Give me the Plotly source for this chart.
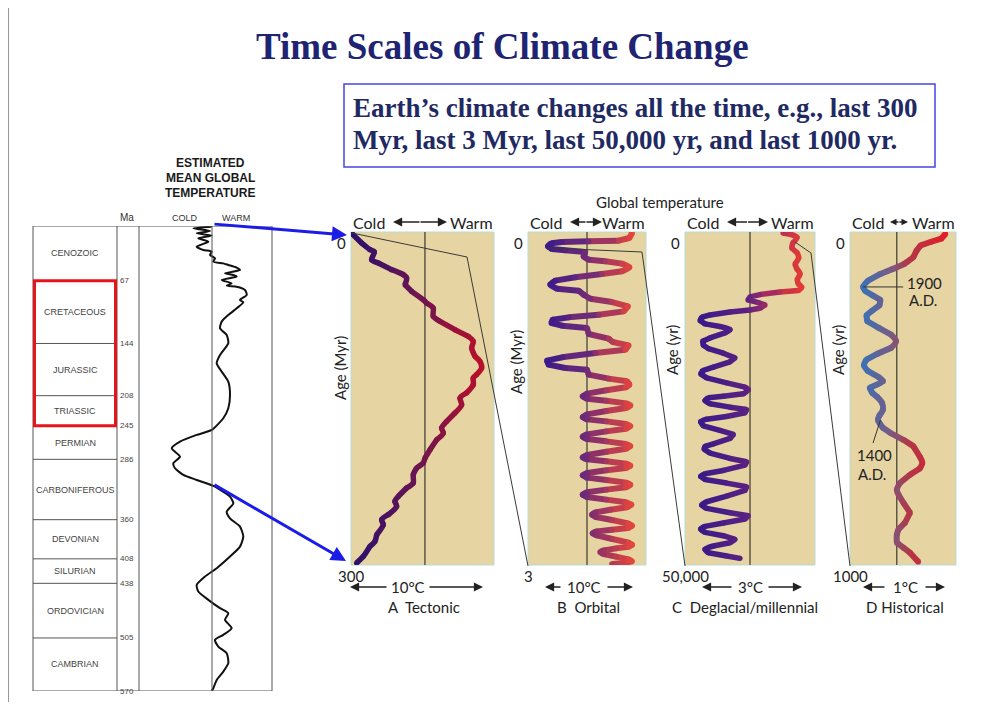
import plotly.graph_objects as go

# The page body has an 8px margin, so the figure is sized to the window minus it
OFF = 8
W, H = 1001 - 2 * OFF, 710 - 2 * OFF
def px(x): return (x - OFF) / W
def py(y): return 1 - (y - OFF) / H

# ---------------- DATA ----------------
period_names = ["CENOZOIC", "CRETACEOUS", "JURASSIC", "TRIASSIC", "PERMIAN",
                "CARBONIFEROUS", "DEVONIAN", "SILURIAN", "ORDOVICIAN", "CAMBRIAN"]
period_bounds_ma = [0, 67, 144, 208, 245, 286, 360, 408, 438, 505, 570]
ma_tick_labels = ["67", "144", "208", "245", "286", "360", "408", "438", "505", "570"]

# Estimated mean global temperature (relative units, 0 = reference line)
geo_age_ma = [0.8, 2.9, 6.1, 9.0, 11.8, 15.1, 19.2, 25.3, 29.4, 31.4, 35.5, 39.6, 43.7, 45.8,
              47.8, 51.1, 53.9, 58.0, 60.0, 62.1, 66.2, 70.3, 73.1, 74.4, 78.4, 84.6, 90.7,
              93.6, 100.9, 109.1, 117.2, 125.4, 133.6, 143.8, 158.1, 168.3, 178.5, 190.8,
              207.1, 223.4, 235.7, 250.0, 256.1, 264.3, 272.5, 282.7, 290.8, 296.9, 305.1,
              311.3, 318.6, 331.7, 339.9, 350.1, 358.3, 368.5, 380.7, 393.0, 405.2, 419.5,
              429.7, 440.0, 448.1, 458.3, 468.5, 474.7, 482.8, 493.0, 501.2, 507.4, 515.5,
              523.7, 535.9, 546.2, 556.4, 566.6, 570]
geo_temp = [-0.03, -1.87, -0.2, -1.53, -0.03, -1.37, -0.37, -1.53, -0.87, -0.03, -0.2, 0.3,
            0.13, 1.13, 1.63, 2.47, 2.8, 1.3, 2.13, 2.47, 0.97, 1.97, 1.47, 2.47, 3.3, 3.47,
            2.8, 3.13, 2.47, 1.63, 0.97, 0.8, 1.47, 1.63, 0.8, 0.47, 0.97, 1.63, 1.8, 1.63,
            1.13, -0.03, -1.53, -3.2, -4.03, -3.2, -3.87, -3.7, -2.87, -1.53, 0.13, 1.8,
            2.13, 1.47, 1.8, 2.8, 3.13, 2.8, 1.8, 0.47, -0.7, -1.53, -1.37, -0.37, 0.8, 1.63,
            1.3, 1.97, 1.13, 0.3, 0.63, 1.47, 1.63, 1.13, 0.47, 0.13, -0.03]

# A Tectonic (age Myr, temperature deg C relative)
tect_age_myr = [1.8, 9.9, 15.9, 18.0, 24.9, 27.9, 33.9, 38.4, 41.4, 47.5, 53.5, 61.0, 64.0,
                68.5, 76.0, 80.5, 88.0, 94.0, 98.5, 104.5, 112.0, 116.5, 122.5, 128.5, 131.5,
                137.5, 145.0, 149.6, 155.6, 163.1, 170.6, 176.6, 181.1, 187.1, 196.1, 203.6,
                208.1, 212.6, 218.6, 226.1, 230.6, 238.1, 242.6, 247.2, 254.7, 259.2, 263.7,
                272.7, 278.7, 283.2, 292.2, 298.2]
tect_temp_c = [-5.46, -4.76, -4.14, -3.81, -4.01, -3.51, -2.51, -1.63, -1.38, -1.50, -1.00,
               -0.13, 0.12, 0.62, 0.62, 1.13, 2.25, 3.26, 3.63, 3.51, 3.76, 4.13, 4.26, 3.88,
               3.63, 3.63, 3.13, 2.63, 2.76, 2.25, 1.63, 1.25, 1.38, 0.88, 0.38, 0.00, -0.13,
               -0.63, -0.88, -0.88, -1.38, -2.00, -2.26, -2.13, -2.76, -3.26, -3.13, -3.63,
               -3.76, -4.14, -4.63, -5.14]

# B Orbital (age Myr)
orb_age_myr = [0.009, 0.054, 0.078, 0.084, 0.090, 0.102, 0.129, 0.153, 0.165, 0.180, 0.219,
               0.249, 0.264, 0.285, 0.318, 0.354, 0.378, 0.408, 0.438, 0.474, 0.511, 0.529,
               0.565, 0.601, 0.631, 0.670, 0.715, 0.745, 0.769, 0.790, 0.820, 0.844, 0.865,
               0.919, 0.961, 0.991, 1.021, 1.060, 1.090, 1.129, 1.159, 1.195, 1.225, 1.240,
               1.285, 1.321, 1.345, 1.375,
               1.399, 1.426, 1.456, 1.480, 1.502, 1.520, 1.544, 1.562,
               1.586, 1.613, 1.643, 1.667, 1.688, 1.706, 1.730, 1.748,
               1.772, 1.796, 1.823, 1.844, 1.865, 1.886, 1.910, 1.928,
               1.952, 1.979, 2.009, 2.030, 2.048, 2.066, 2.087, 2.105,
               2.126, 2.147, 2.171, 2.192, 2.213, 2.234, 2.258, 2.276,
               2.300, 2.321, 2.345, 2.366, 2.387, 2.411, 2.435, 2.456,
               2.480, 2.502, 2.526, 2.547, 2.568, 2.595, 2.625, 2.646,
               2.667, 2.682, 2.697, 2.715, 2.733, 2.766, 2.799, 2.817,
               2.835, 2.850, 2.868, 2.883, 2.901, 2.925, 2.949, 2.967,
               2.985, 2.991]
orb_temp_c = [5.11, 4.81, 3.60, 0.19, -2.84, -4.05, -4.43, -3.98, -2.46, -0.19, -0.38, 0.19,
              2.08, 3.98, 4.81, 3.98, 1.70, -1.33, -3.60, -4.17, -3.41, -0.95, -0.38, 0.38,
              2.84, 4.66, 4.17, 1.33, -2.08, -3.90, -4.05, -2.84, 0.00, 0.19, 2.46, 2.92,
              4.73, 4.36, 0.95, -2.84, -4.55, -4.36, -2.46, 0.00, 0.19, 2.46, 4.55, 4.81,
              4.43, 2.20, 0.00, -0.49, 0.00, 2.20, 4.43, 4.92,
              4.43, 2.20, 0.00, -0.49, 0.00, 2.20, 4.43, 4.92,
              4.43, 2.20, 0.00, -0.49, 0.00, 2.20, 4.43, 4.92,
              4.43, 2.20, 0.00, -0.49, 0.00, 2.20, 4.43, 4.92,
              4.43, 2.20, 0.00, -0.49, 0.00, 2.20, 4.43, 4.92,
              4.43, 2.20, 0.00, -0.49, 0.00, 2.20, 4.43, 5.04,
              4.55, 2.65, 0.95, 0.57, 1.02, 2.84, 4.66, 5.11,
              4.66, 2.84, 1.10, 0.64, 1.10, 2.88, 4.73, 5.11,
              4.73, 3.30, 1.89, 1.52, 1.89, 3.30, 4.73, 5.11,
              3.98, 2.84]

# C Deglacial/millennial (age yr)
degl_age_yr = [150, 400, 800, 1650, 2400, 3150, 3900, 4800, 5500, 6300, 7150, 7800, 8300,
               8800, 9000, 9400, 9750, 10200, 10600, 10950, 11450, 11700, 12000, 12450,
               12800, 13300, 13800, 14200, 14650, 15150, 15900, 16400, 17000, 17500, 18200,
               18900, 19500, 20300, 20800, 21300, 21900, 22650, 23300, 23700, 24300, 24650,
               24900, 25300, 25800, 26300, 26650, 27150, 27700, 28100, 28500, 29100, 29800,
               30400, 31000, 31800, 32200, 32600, 33200, 34000, 34500, 35000, 35800, 36300,
               36700, 37150, 37700, 38250, 38800, 39650, 40500, 41000, 41500, 42150, 42600,
               43100, 43700, 44200, 44600, 45100, 45600, 46150, 46650, 47150, 47650, 48150,
               48650, 49000]
degl_temp_c = [0.99, 1.25, 1.41, 1.28, 1.25, 1.42, 1.46, 1.35, 1.40, 1.50, 1.42, 1.45, 1.55,
               1.45, 0.90, 0.30, 0.00, -0.06, 0.25, 0.45, 0.30, 0.00, -0.60, -1.20, -1.45,
               -1.50, -1.35, -0.90, -0.60, -0.75, -1.20, -1.42, -1.40, -1.25, -0.80, -0.45,
               -0.60, -1.10, -1.42, -1.48, -1.30, -0.70, -0.15, -0.05, -0.20, -0.80, -1.25,
               -1.35, -1.20, -0.60, -0.10, -0.15, -0.70, -1.30, -1.48, -1.40, -0.90, -0.50,
               -0.60, -1.10, -1.35, -1.38, -1.20, -0.60, -0.10, -0.15, -0.80, -1.35, -1.48,
               -1.35, -0.70, -0.10, -0.15, -0.70, -1.30, -1.45, -1.30, -0.60, -0.05, -0.15,
               -0.80, -1.35, -1.48, -1.35, -0.80, -0.45, -0.60, -1.10, -1.35, -1.25, -0.70,
               -0.30]

# D Historical (age yr)
hist_age_yr = [6, 20, 30, 40, 56, 76, 96, 110, 126, 146, 165, 178, 191, 204, 220, 236, 250,
               268, 288, 308, 328, 348, 366, 383, 400, 418, 436, 448, 458, 468, 483, 495, 513,
               534, 550, 564, 578, 588, 603, 624, 643, 675, 693, 710, 729, 753, 774, 793, 813,
               843, 873, 893, 909, 933, 948, 963, 990]
hist_temp_c = [0.59, 0.54, 0.41, 0.29, 0.24, 0.20, 0.09, -0.04, -0.20, -0.35, -0.41, -0.38,
               -0.29, -0.20, -0.21, -0.30, -0.37, -0.36, -0.22, -0.07, -0.01, -0.07, -0.24,
               -0.37, -0.40, -0.35, -0.22, -0.17, -0.24, -0.33, -0.30, -0.24, -0.18, -0.17,
               -0.21, -0.23, -0.20, -0.17, -0.08, 0.08, 0.20, 0.28, 0.31, 0.28, 0.16, 0.04,
               0.00, 0.03, 0.08, 0.16, 0.10, 0.02, 0.00, 0.00, 0.08, 0.16, 0.26]

panel_top_labels = ["0", "0", "0", "0"]
panel_bottom_labels = ["300", "3", "50,000", "1000"]
panel_scale_labels = ["10°C", "10°C", "3°C", "1°C"]
panel_names = ["A  Tectonic", "B  Orbital", "C  Deglacial/millennial", "D Historical"]
panel_age_titles = ["Age (Myr)", "Age (Myr)", "Age (yr)", "Age (yr)"]

# ---------------- STYLE HELPERS ----------------
def hex2rgb(h):
    h = h.lstrip('#')
    return tuple(int(h[i:i + 2], 16) for i in (0, 2, 4))

def color_at(stops, f):
    f = max(0.0, min(1.0, f))
    for (p0, c0), (p1, c1) in zip(stops[:-1], stops[1:]):
        if f <= p1:
            t = 0 if p1 == p0 else (f - p0) / (p1 - p0)
            a, b = hex2rgb(c0), hex2rgb(c1)
            return 'rgb(%d,%d,%d)' % tuple(round(a[k] + (b[k] - a[k]) * t) for k in range(3))
    return 'rgb(%d,%d,%d)' % hex2rgb(stops[-1][1])

fig = go.Figure()

def gradient_curve(xs, ys, xa, ya, stops, tmin, tmax, width, nbins=28):
    """Colour each run of segments by its temperature; runs of one colour are drawn as splines."""
    def seg_bin(i):
        f = ((xs[i] + xs[i + 1]) / 2 - tmin) / (tmax - tmin)
        return int(round(max(0, min(1, f)) * (nbins - 1)))
    bins = {}
    i = 0
    n = len(xs) - 1
    while i < n:
        b = seg_bin(i)
        j = i
        while j + 1 < n and seg_bin(j + 1) == b:
            j += 1
        bx, by = bins.setdefault(b, ([], []))
        bx += list(xs[i:j + 2]) + [None]
        by += list(ys[i:j + 2]) + [None]
        i = j + 1
    for b in sorted(bins):
        bx, by = bins[b]
        fig.add_trace(go.Scatter(x=bx, y=by, mode='lines', xaxis=xa, yaxis=ya,
                                 line=dict(color=color_at(stops, b / (nbins - 1)), width=width,
                                           shape='spline', smoothing=0.8),
                                 hoverinfo='skip', showlegend=False))
    fig.add_trace(go.Scatter(x=xs, y=ys, mode='markers', xaxis=xa, yaxis=ya,
                             marker=dict(size=width * 0.95, line=dict(width=0),
                                         color=[color_at(stops, (v - tmin) / (tmax - tmin)) for v in xs]),
                             hoverinfo='skip', showlegend=False))

# left geologic curve
fig.add_trace(go.Scatter(x=geo_temp, y=geo_age_ma, mode='lines', xaxis='x', yaxis='y',
                         line=dict(color='#111111', width=2, shape='spline', smoothing=0.6),
                         hoverinfo='skip', showlegend=False))

gradient_curve(tect_temp_c, tect_age_myr, 'x2', 'y2',
               [(0, '#2a0f6e'), (0.5, '#6a1552'), (1, '#b8102a')], -5.5, 4.3, 5.5, nbins=14)
gradient_curve(orb_temp_c, orb_age_myr, 'x3', 'y3',
               [(0, '#3c1a8c'), (0.45, '#6e2a78'), (1, '#e5463c')], -4.5, 5.1, 6)
gradient_curve(degl_temp_c, degl_age_yr, 'x4', 'y4',
               [(0, '#3a1a88'), (0.45, '#5a2282'), (0.65, '#9a2a68'), (1, '#e53a34')], -1.5, 1.55, 5.5)
gradient_curve(hist_temp_c, hist_age_yr, 'x5', 'y5',
               [(0, '#3a72b6'), (0.35, '#7a5a82'), (0.55, '#b03848'), (1, '#e31e2a')], -0.42, 0.6, 6)

# ---------------- AXES ----------------
def ax(dom, rng):
    return dict(domain=[px(dom[0]), px(dom[1])], range=list(rng), visible=False, fixedrange=True)
def ay(dom, rng, anchor):
    return dict(domain=[py(dom[1]), py(dom[0])], range=list(rng), visible=False, fixedrange=True, anchor=anchor)

panel_px = [(351, 494), (528, 646), (685, 815), (850, 956)]
fig.update_layout(
    xaxis=dict(ax((139, 272), (-7.3, 6.0)), anchor='y'),
    yaxis=ay((226, 691), (570, 0), 'x'),
    xaxis2=dict(ax(panel_px[0], (-5.56, 5.19)), anchor='y2'),
    yaxis2=ay((232, 565), (300, 0), 'x2'),
    xaxis3=dict(ax(panel_px[1], (-6.70, 6.70)), anchor='y3'),
    yaxis3=ay((232, 565), (3, 0), 'x3'),
    xaxis4=dict(ax(panel_px[2], (-1.95, 1.95)), anchor='y4'),
    yaxis4=ay((232, 565), (50000, 0), 'x4'),
    xaxis5=dict(ax(panel_px[3], (-0.57, 0.72)), anchor='y5'),
    yaxis5=ay((232, 565), (1000, 0), 'x5'),
)

# ---------------- SHAPES ----------------
shapes = []
GRID = '#555555'
# frame line at left edge
shapes.append(dict(type='line', xref='paper', yref='paper', x0=px(8.5), x1=px(8.5), y0=py(8), y1=py(702),
                   line=dict(color='#9a9a9a', width=1)))
# geologic table
for xv in (33, 117, 139, 272):
    shapes.append(dict(type='line', xref='paper', yref='y', x0=px(xv), x1=px(xv), y0=0, y1=570,
                       line=dict(color=GRID, width=1)))
shapes.append(dict(type='line', xref='x', yref='y', x0=0, x1=0, y0=0, y1=570, line=dict(color=GRID, width=1)))
for b in (0, 570):
    shapes.append(dict(type='line', xref='paper', yref='y', x0=px(33), x1=px(272), y0=b, y1=b,
                       line=dict(color=GRID, width=1)))
for b in period_bounds_ma[1:-1]:
    shapes.append(dict(type='line', xref='paper', yref='y', x0=px(33), x1=px(117), y0=b, y1=b,
                       line=dict(color=GRID, width=1)))
shapes.append(dict(type='rect', xref='paper', yref='y', x0=px(34.5), x1=px(115.5),
                   y0=period_bounds_ma[1], y1=period_bounds_ma[4],
                   line=dict(color='#e8141c', width=3)))
# panels
for k in range(4):
    xa = 'x%d' % (k + 2)
    ya = 'y%d' % (k + 2)
    shapes.append(dict(type='rect', xref=xa + ' domain', yref=ya + ' domain', x0=0, x1=1, y0=0, y1=1,
                       fillcolor='#e7d4a3', line=dict(color='#b5dcd6', width=1), layer='below'))
    shapes.append(dict(type='line', xref=xa, yref=ya + ' domain', x0=0, x1=0, y0=0, y1=1,
                       line=dict(color='#1a1a1a', width=1), layer='below'))
# heading box
shapes.append(dict(type='rect', xref='paper', yref='paper', x0=px(344), x1=px(935), y0=py(167), y1=py(84),
                   line=dict(color='#4646e0', width=1.5)))
# zoom connector lines
def path(pts):
    return 'M ' + ' L '.join('%.5f,%.5f' % (px(a), py(b)) for a, b in pts)
for pts in ([(352, 233), (467, 257), (528, 566)],
            [(548, 248), (642, 252), (685, 566)],
            [(795, 242), (811, 253), (850, 566)]):
    shapes.append(dict(type='path', xref='paper', yref='paper', path=path(pts),
                       line=dict(color='#3a3a3a', width=1)))
# marker lines in panel D
shapes.append(dict(type='line', xref='x5', yref='y5', x0=-0.41, x1=0.077, y0=165, y1=165,
                   line=dict(color='#333333', width=1)))
shapes.append(dict(type='line', xref='x5', yref='y5', x0=-0.20, x1=-0.29, y0=565, y1=634,
                   line=dict(color='#333333', width=1)))
fig.update_layout(shapes=shapes)

# ---------------- ANNOTATIONS ----------------
ann = []
def txt(x, y, s, size, color='#222222', family='Lato', xanchor='center', yanchor='middle', angle=0):
    ann.append(dict(x=px(x), y=py(y), xref='paper', yref='paper', text=s, showarrow=False,
                    font=dict(size=size, color=color, family=family), xanchor=xanchor,
                    yanchor=yanchor, textangle=angle))
def arrow(hx, hy, tx, ty, color, width, head=2, size=1.0):
    ann.append(dict(x=px(hx), y=py(hy), xref='paper', yref='paper', ax=tx - hx, ay=ty - hy,
                    axref='pixel', ayref='pixel', text='', showarrow=True, arrowhead=head,
                    arrowsize=size, arrowwidth=width, arrowcolor=color, standoff=0, startstandoff=0))

txt(503, 47, '<b>Time Scales of Climate Change</b>', 37, '#1e2472', 'Liberation Serif')
txt(351, 108, '<b>Earth’s climate changes all the time, e.g., last 300</b>', 27, '#1f2a62',
    'Liberation Serif', xanchor='left')
txt(351, 140, '<b>Myr, last 3 Myr, last 50,000 yr, and last 1000 yr.</b>', 27, '#1f2a62',
    'Liberation Serif', xanchor='left')

# left column header
for s, yv in (('ESTIMATED', 163), ('MEAN GLOBAL', 178), ('TEMPERATURE', 193)):
    txt(210, yv, '<b>%s</b>' % s, 12, '#1a1a1a', 'Liberation Sans')
txt(127, 217, 'Ma', 10, '#333333', 'Liberation Sans')
txt(185, 218, 'COLD', 9, '#333333', 'Liberation Sans')
txt(236, 218, 'WARM', 9, '#333333', 'Liberation Sans')
for i, name in enumerate(period_names):
    mid = (period_bounds_ma[i] + period_bounds_ma[i + 1]) / 2
    ann.append(dict(x=px(75), y=mid, xref='paper', yref='y', text=name, showarrow=False,
                    xanchor='center', yanchor='middle',
                    font=dict(size=9, color='#444444', family='Liberation Sans')))
for b, lab in zip(period_bounds_ma[1:], ma_tick_labels):
    ann.append(dict(x=px(118), y=b, xref='paper', yref='y', text=lab, showarrow=False,
                    xanchor='left', yanchor='middle',
                    font=dict(size=8, color='#444444', family='Liberation Sans')))

# blue arrows
arrow(347, 235, 213, 224, '#1c1ce8', 3, head=2, size=1.0)
arrow(346, 561, 213, 484, '#1c1ce8', 3, head=2, size=1.0)

# panels text
txt(660, 202, 'Global temperature', 15)
cold_warm = [(393, 447), (570, 602), (727, 768), (890, 908)]
cw_size = [1.4, 1.4, 1.4, 1.0]
scale_bar = [(350, 388, 408, 428, 483), (545, 562, 584, 606, 633),
             (702, 733, 750, 767, 802), (863, 886, 905, 924, 945)]
name_x = [424, 588, 745, 905]
title_pos = [(340, 368), (516, 362), (672, 350), (838, 350)]
for k in range(4):
    l, r = panel_px[k]
    txt(l, 222, 'Cold', 16, xanchor='left')
    txt(r + 1, 222, 'Warm', 16, xanchor='right')
    a0, a1 = cold_warm[k]
    m = (a0 + a1) / 2
    arrow(a0, 222, m + 1, 222, '#222222', 1.3, head=2, size=cw_size[k])
    arrow(a1, 222, m - 1, 222, '#222222', 1.3, head=2, size=cw_size[k])
    lh, lt, c, rt, rh = scale_bar[k]
    arrow(lh, 587, lt, 587, '#222222', 1.3, head=2, size=1.4)
    arrow(rh, 587, rt, 587, '#222222', 1.3, head=2, size=1.4)
    txt(c, 587, panel_scale_labels[k], 15)
    txt(name_x[k], 607, panel_names[k], 15)
    tx, ty = title_pos[k]
    txt(tx, ty, panel_age_titles[k], 15, angle=-90)
    ya = 'y%d' % (k + 2)
    xa = 'x%d' % (k + 2)
    ann.append(dict(x=px(l - 3), y=0, xref='paper', yref=ya, text=panel_top_labels[k],
                    showarrow=False, xanchor='right', yanchor='top',
                    font=dict(size=15, color='#222222', family='Lato')))
    ymax = fig.layout['yaxis%d' % (k + 2)].range[0]
    ann.append(dict(x=0, y=ymax, xref=xa + ' domain', yref=ya, text=panel_bottom_labels[k],
                    showarrow=False, xanchor='center', yanchor='top',
                    font=dict(size=15, color='#222222', family='Lato')))

txt(905, 283, '1900', 15, xanchor='left')
txt(907, 300, 'A.D.', 15, xanchor='left')
txt(855, 455, '1400', 15, xanchor='left')
txt(856, 474, 'A.D.', 15, xanchor='left')

fig.update_layout(annotations=ann)
fig.update_layout(width=W, height=H, autosize=False, margin=dict(l=0, r=0, t=0, b=0),
                  paper_bgcolor='white', plot_bgcolor='rgba(0,0,0,0)', showlegend=False)

fig.write_html("out.html")
